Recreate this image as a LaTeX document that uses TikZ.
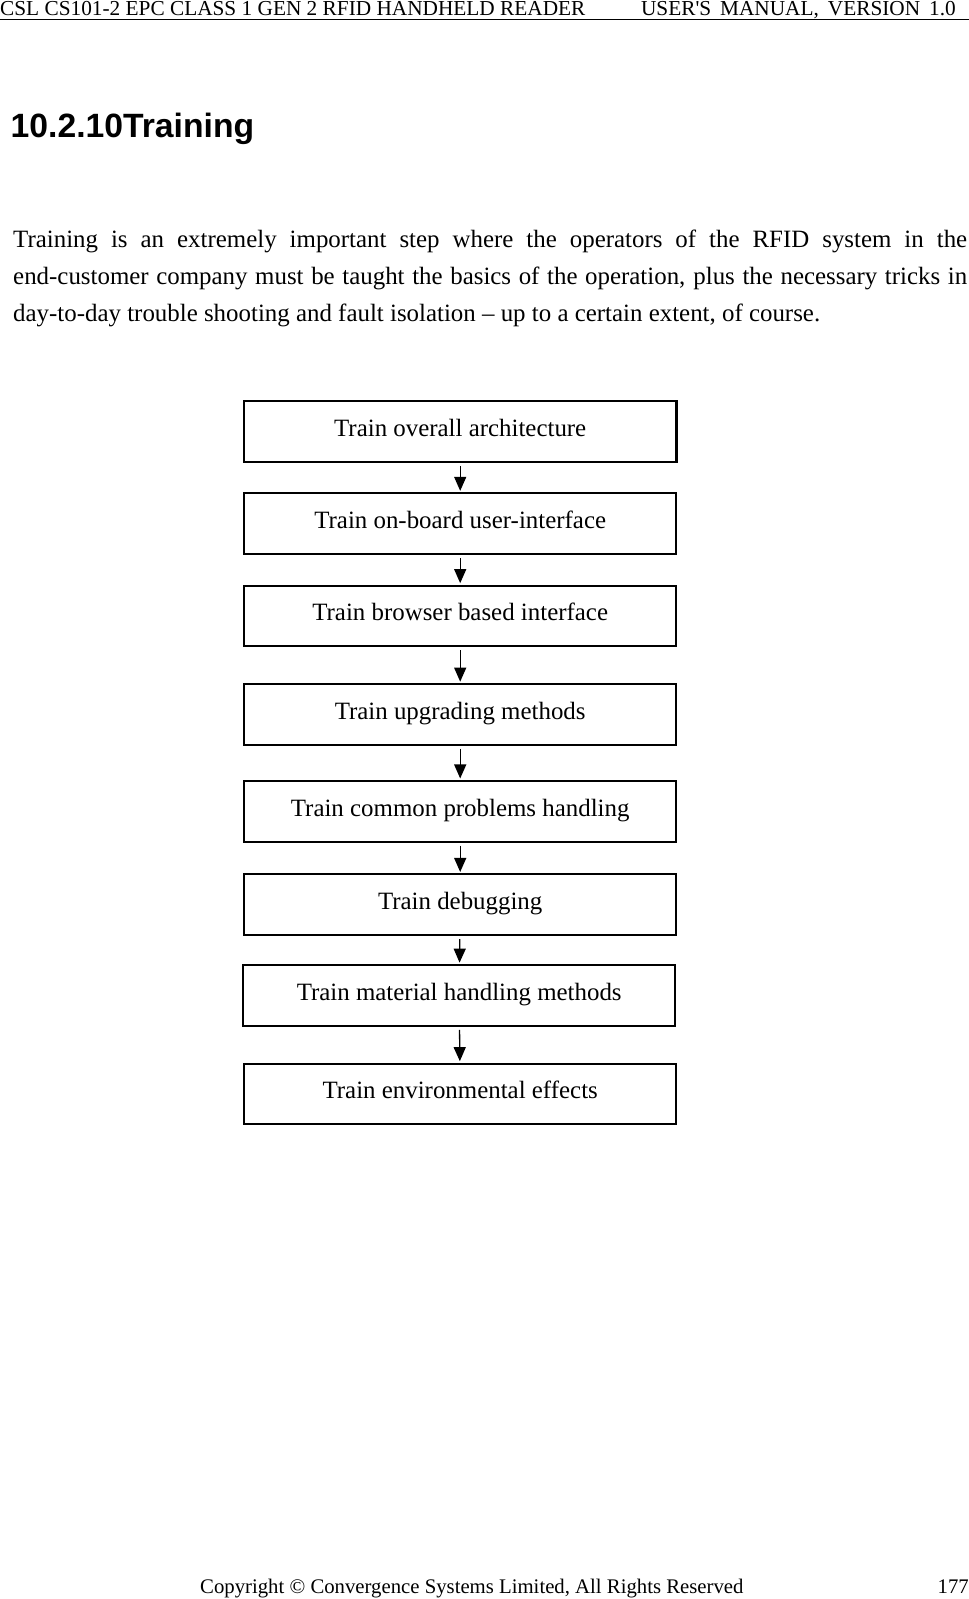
\documentclass[tikz,border=0pt]{standalone}
\usepackage{fontspec}
\setmainfont{Liberation Serif}
\newfontfamily\headingfont{Liberation Sans}
\usetikzlibrary{arrows.meta}

\tikzset{
	trainbox/.style={draw=black, line width=2pt, minimum width=432.5pt, minimum height=60.7pt, inner sep=0pt, text height=0.95em, text depth=0em, font=\fontsize{24.9}{30}\selectfont},
	flowarrow/.style={-{Triangle[length=14pt,width=12pt]}, line width=1.3pt, shorten <=3pt, shorten >=1.5pt},
	pagetext/.style={inner sep=0pt, font=\fontsize{21.3}{25}\selectfont}
}

\begin{document}
\begin{tikzpicture}[x=1pt, y=-1pt]
		\useasboundingbox (0,0) rectangle (969,1599);
		
		\node[pagetext, anchor=base west] (hdrleft) at (0,15.5) {CSL CS101-2 EPC CLASS 1 GEN 2 RFID HANDHELD READER};
		\node[pagetext, anchor=base east] (hdrright) at (956,15.5) {USER\textquotesingle S\hspace{0.42em}MANUAL,\hspace{0.42em}VERSION\hspace{0.42em}1.0};
		\coordinate (rulestart) at (0,19.5);
		\coordinate (ruleend) at (969,19.5);
		\draw [line width=1.3pt] (rulestart) -- (ruleend);
		
		\node[anchor=base west, inner sep=0pt, font=\headingfont\bfseries\fontsize{33.7}{40}\selectfont] (heading) at (10.5,137.7) {10.2.10Training};
		
		\node[anchor=base west, inner sep=0pt, text width=954pt, align=justify, font=\fontsize{24.9}{37}\selectfont] (para) at (13,247.5) {\hyphenpenalty=10000 \exhyphenpenalty=10000
			Training is an extremely important step where the operators of the RFID system in the\linebreak
			end-customer company must be taught the basics of the operation, plus the necessary tricks in\linebreak
			day-to-day trouble shooting and fault isolation – up to a certain extent, of course.};
		
		\node[trainbox, line width=2.2pt] (overall) at (460.2,431.3) {Train overall architecture};
		\node[trainbox] (onboard) at (460.2,523.7) {Train on-board user-interface};
		\node[trainbox] (browser) at (460.2,616) {Train browser based interface};
		\node[trainbox] (upgrading) at (460.2,714.5) {Train upgrading methods};
		\node[trainbox] (problems) at (460.2,811.3) {Train common problems handling};
		\node[trainbox] (debugging) at (460.2,904.8) {Train debugging};
		\node[trainbox] (material) at (459.2,995.5) {Train material handling methods};
		\node[trainbox] (environment) at (460.2,1094) {Train environmental effects};
		
		\draw [flowarrow] (overall) -- (onboard);
		\draw [flowarrow] (onboard) -- (browser);
		\draw [flowarrow] (browser) -- (upgrading);
		\draw [flowarrow] (upgrading) -- (problems);
		\draw [flowarrow] (problems) -- (debugging);
		\draw [flowarrow] (debugging) -- (material);
		\draw [flowarrow] (material) -- (environment);
		
		\node[inner sep=0pt, font=\fontsize{20.75}{25}\selectfont, anchor=base west] (copyright) at (200,1593.3) {Copyright © Convergence Systems Limited, All Rights Reserved};
		\node[inner sep=0pt, font=\fontsize{20.75}{25}\selectfont, anchor=base east] (pagenum) at (969,1593.3) {177};
	\end{tikzpicture}
\end{document}
